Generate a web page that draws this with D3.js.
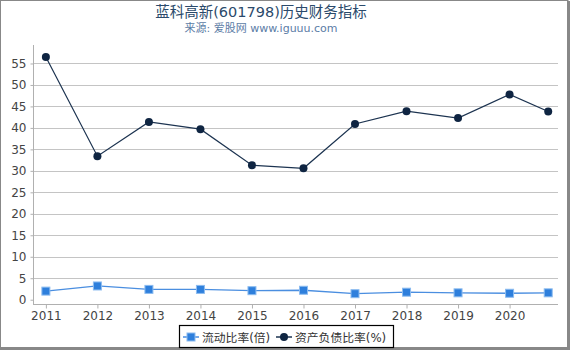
<!DOCTYPE html>
<html><head><meta charset="utf-8">
<script src="https://cdn.jsdelivr.net/npm/d3@7"></script>
<style>body{margin:0;background:#fff}svg{display:block;font-family:"DejaVu Sans","Noto Sans CJK SC",sans-serif}</style>
</head><body><svg id="c" width="570" height="350"></svg>
<script>
const periods = [2011, 2012, 2013, 2014, 2015, 2016, 2017, 2018, 2019, 2020, 2020.75];
const tickYears = [2011, 2012, 2013, 2014, 2015, 2016, 2017, 2018, 2019, 2020];
const currentRatio = [2.0, 3.2, 2.4, 2.4, 2.1, 2.2, 1.4, 1.75, 1.6, 1.5, 1.6];
const debtRatio = [56.5, 33.4, 41.4, 39.7, 31.3, 30.6, 40.9, 43.9, 42.3, 47.8, 43.8];
const yTicks = [0, 5, 10, 15, 20, 25, 30, 35, 40, 45, 50, 55];
const seriesNames = ["流动比率(倍)", "资产负债比率(%)"];
const title = "蓝科高新(601798)历史财务指标";
const subtitle = "来源: 爱股网 www.iguuu.com";

const svg = d3.select("#c");
const W = 570, H = 350;
const m = {left: 33, right: 558, top: 45, bottom: 304};

const x = d3.scaleLinear().domain([2010.75, 2020.94]).range([m.left, m.right]);
const y = d3.scaleLinear().domain([-1, 59.3]).range([m.bottom, m.top]);

// frame
svg.append("rect").attr("x",0.5).attr("y",0.5).attr("width",W-2.5).attr("height",H-2.5)
  .attr("fill","none").attr("stroke","#888").attr("stroke-width",1);
svg.append("line").attr("x1",568.5).attr("x2",568.5).attr("y1",1).attr("y2",H).attr("stroke","#888").attr("stroke-width",3);
svg.append("line").attr("x1",0).attr("x2",W).attr("y1",348.5).attr("y2",348.5).attr("stroke","#888").attr("stroke-width",3);

// titles
svg.append("text").attr("x",261).attr("y",17).attr("text-anchor","middle")
  .attr("font-size",14.5).attr("fill","#2b4a6b").text(title);
svg.append("text").attr("x",261).attr("y",32).attr("text-anchor","middle")
  .attr("font-size",11).attr("fill","#5b7ca6").text(subtitle);

// grid
svg.append("g").selectAll("line").data(yTicks.filter(d=>d>0)).join("line")
  .attr("x1",m.left).attr("x2",m.right)
  .attr("y1",d=>Math.round(y(d))+0.5).attr("y2",d=>Math.round(y(d))+0.5)
  .attr("stroke","#c4c4c4").attr("stroke-width",1);

// y axis
const ya = svg.append("g").attr("transform",`translate(${m.left+0.5},0)`)
  .call(d3.axisLeft(y).tickValues(yTicks).tickSize(3).tickPadding(4));
ya.select(".domain").attr("stroke","#b0b0b0").attr("d",`M0,${m.top}V${m.bottom}`);
ya.selectAll(".tick line").attr("stroke","#b0b0b0");
ya.selectAll(".tick text").attr("font-size",12).attr("fill","#444").attr("font-family","DejaVu Sans");

// x axis
const xa = svg.append("g").attr("transform",`translate(0,${m.bottom+0.5})`)
  .call(d3.axisBottom(x).tickValues(tickYears).tickFormat(d3.format("d")).tickSize(4).tickPadding(3));
xa.select(".domain").attr("stroke","#b0b0b0").attr("d",`M${m.left},0H${m.right}`);
xa.selectAll(".tick line").attr("stroke","#b0b0b0");
xa.selectAll(".tick text").attr("font-size",12).attr("fill","#444").attr("font-family","DejaVu Sans");

const line = d3.line().x((d,i)=>x(periods[i])).y(d=>y(d));
// series 1
svg.append("path").datum(currentRatio).attr("d",line).attr("fill","none")
  .attr("stroke","#4a8ee0").attr("stroke-width",1.3);
svg.append("g").selectAll("rect").data(currentRatio).join("rect")
  .attr("x",(d,i)=>x(periods[i])-4).attr("y",d=>y(d)-4).attr("width",8).attr("height",8)
  .attr("fill","#2e7fdc").attr("stroke","#8cbcf0").attr("stroke-width",1);
// series 2
svg.append("path").datum(debtRatio).attr("d",line).attr("fill","none")
  .attr("stroke","#1c3350").attr("stroke-width",1.2);
svg.append("g").selectAll("circle").data(debtRatio).join("circle")
  .attr("cx",(d,i)=>x(periods[i])).attr("cy",d=>y(d)).attr("r",4)
  .attr("fill","#0f2542");

// legend
const lg = svg.append("g");
lg.append("rect").attr("x",179.5).attr("y",325.5).attr("width",214).attr("height",22)
  .attr("fill","#fff").attr("stroke","#000").attr("stroke-width",1.2);
lg.append("line").attr("x1",183).attr("x2",199).attr("y1",337).attr("y2",337).attr("stroke","#4a8ee0").attr("stroke-width",1.5);
lg.append("rect").attr("x",187).attr("y",333).attr("width",8).attr("height",8).attr("fill","#2e7fdc").attr("stroke","#8cbcf0");
lg.append("text").attr("x",202).attr("y",341.5).attr("font-size",11.8).attr("fill","#333").text(seriesNames[0]);
lg.append("line").attr("x1",276).attr("x2",292).attr("y1",337).attr("y2",337).attr("stroke","#1c3350").attr("stroke-width",1.5);
lg.append("circle").attr("cx",284).attr("cy",337).attr("r",4).attr("fill","#0f2542");
lg.append("text").attr("x",295).attr("y",341.5).attr("font-size",11.8).attr("fill","#333").text(seriesNames[1]);
</script></body></html>
